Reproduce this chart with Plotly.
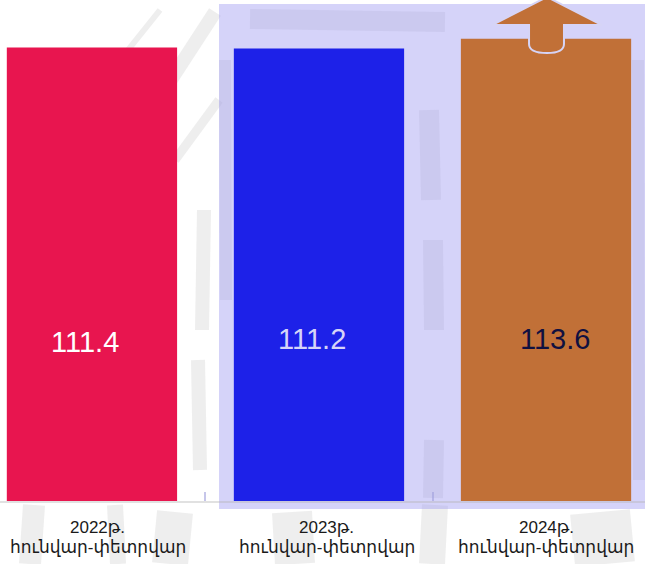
import plotly.graph_objects as go

# ---- data ----
years = ["2022թ.", "2023թ.", "2024թ."]
period = ["հունվար-փետրվար", "հունվար-փետրվար", "հունվար-փետրվար"]
values = [111.4, 111.2, 113.6]

# ---- styles ----
bar_colors = ["#E8154F", "#1D21E8", "#C17037"]
label_colors = ["#FFFFFF", "#D6D4F8", "#101040"]
label_dx = [-0.03, -0.03, 0.04]
label_y = [39.0, 39.8, 39.7]
tick_dx = [0.026, 0.035, 0.0]

W, H = 645, 564
MB = 63
PH = H - MB  # plot height in px


def px(x, y):
    return x / W, (PH - y) / PH


def rect_px(xa, ya, xb, yb, color, layer="below"):
    p0 = px(xa, ya)
    p1 = px(xb, yb)
    return dict(type="rect", xref="paper", yref="paper", x0=p0[0], x1=p1[0],
                y0=p1[1], y1=p0[1], fillcolor=color, line=dict(width=0), layer=layer)


def line_px(xa, ya, xb, yb, color, w):
    p0 = px(xa, ya)
    p1 = px(xb, yb)
    return dict(type="line", xref="paper", yref="paper", x0=p0[0], y0=p0[1],
                x1=p1[0], y1=p1[1], line=dict(color=color, width=w), layer="below")


cats = [f"c{i}" for i in range(len(values))]

fig = go.Figure()
fig.add_trace(go.Bar(
    x=cats, y=values, width=0.75,
    marker=dict(color=bar_colors, line=dict(width=0)),
    hoverinfo="skip",
))

# faint background texture (decoration)
tex = "rgba(200,200,200,0.3)"
shapes = [
    line_px(135, 135, 215, 12, tex, 14),
    line_px(175, 160, 219, 100, tex, 9),
    line_px(120, 60, 160, 10, tex, 6),
    line_px(204, 210, 202, 330, tex, 14),
    line_px(198, 360, 200, 470, tex, 14),
    line_px(34, 505, 30, 564, tex, 22),
    line_px(115, 505, 118, 564, tex, 16),
    line_px(175, 512, 170, 564, tex, 36),
    line_px(292, 512, 295, 564, tex, 40),
    line_px(435, 505, 432, 564, tex, 26),
    line_px(600, 512, 605, 564, tex, 60),
    # inside the lavender panel
    line_px(250, 19, 445, 22, tex, 20),
    line_px(429, 110, 431, 200, tex, 20),
    line_px(433, 240, 434, 330, tex, 20),
    line_px(434, 440, 433, 498, tex, 20),
    line_px(638, 60, 639, 480, tex, 12),
    line_px(225, 60, 226, 300, tex, 12),
]

# lavender panel behind bars 2 and 3
shapes.append(rect_px(219, 4, 645, 509, "rgba(155,150,241,0.42)"))

# upward arrow on top of the 2024 bar
pts = [(492, 25), (547, -3), (602, 25), (564, 25), (564, 44)]
path = "M " + " L ".join(f"{px(a,b)[0]:.4f},{px(a,b)[1]:.4f}" for a, b in pts)
c1 = px(564, 53); e1 = px(547, 53); c2 = px(529, 53); e2 = px(529, 44); e3 = px(529, 25)
path += f" Q {c1[0]:.4f},{c1[1]:.4f} {e1[0]:.4f},{e1[1]:.4f}"
path += f" Q {c2[0]:.4f},{c2[1]:.4f} {e2[0]:.4f},{e2[1]:.4f}"
path += f" L {e3[0]:.4f},{e3[1]:.4f} Z"
shapes.append(dict(type="path", xref="paper", yref="paper", path=path,
                   fillcolor=bar_colors[2], line=dict(color="#D6D4F6", width=2),
                   layer="above"))

annotations = []
for i, v in enumerate(values):
    annotations.append(dict(
        x=i + label_dx[i], y=label_y[i], xref="x", yref="y",
        text=f"{v:.1f}", showarrow=False,
        font=dict(family="Liberation Sans, Arial, sans-serif", size=29, color=label_colors[i]),
        xanchor="center", yanchor="middle"))
    annotations.append(dict(
        x=i + tick_dx[i], y=px(0, 527)[1], xref="x", yref="paper",
        text=years[i], showarrow=False,
        font=dict(family="Liberation Sans, Arial, DejaVu Sans, sans-serif", size=17, color="#1A1A1A"),
        xanchor="center", yanchor="middle"))
    annotations.append(dict(
        x=i + tick_dx[i], y=px(0, 547)[1], xref="x", yref="paper",
        text=period[i], showarrow=False,
        font=dict(family="Liberation Sans, Arial, DejaVu Sans, sans-serif", size=17, color="#1A1A1A"),
        xanchor="center", yanchor="middle"))

fig.update_layout(
    width=W, height=H,
    margin=dict(l=0, r=0, t=0, b=MB, pad=0),
    paper_bgcolor="white", plot_bgcolor="rgba(0,0,0,0)",
    showlegend=False,
    shapes=shapes, annotations=annotations,
    xaxis=dict(range=[-0.405, 2.436], showticklabels=False, showgrid=False,
               zeroline=False, showline=True, linecolor="rgba(180,180,180,0.4)", linewidth=2,
               ticks="inside", ticklen=9, tickcolor="rgba(160,160,220,0.6)", tickwidth=2,
               tickson="boundaries", fixedrange=True),
    yaxis=dict(range=[0, PH / 4.07], visible=False, showgrid=False, zeroline=False, fixedrange=True),
)

fig.write_html("out.html", config={"displayModeBar": False},
               post_script="document.body.style.margin='0';document.body.style.padding='0';")
